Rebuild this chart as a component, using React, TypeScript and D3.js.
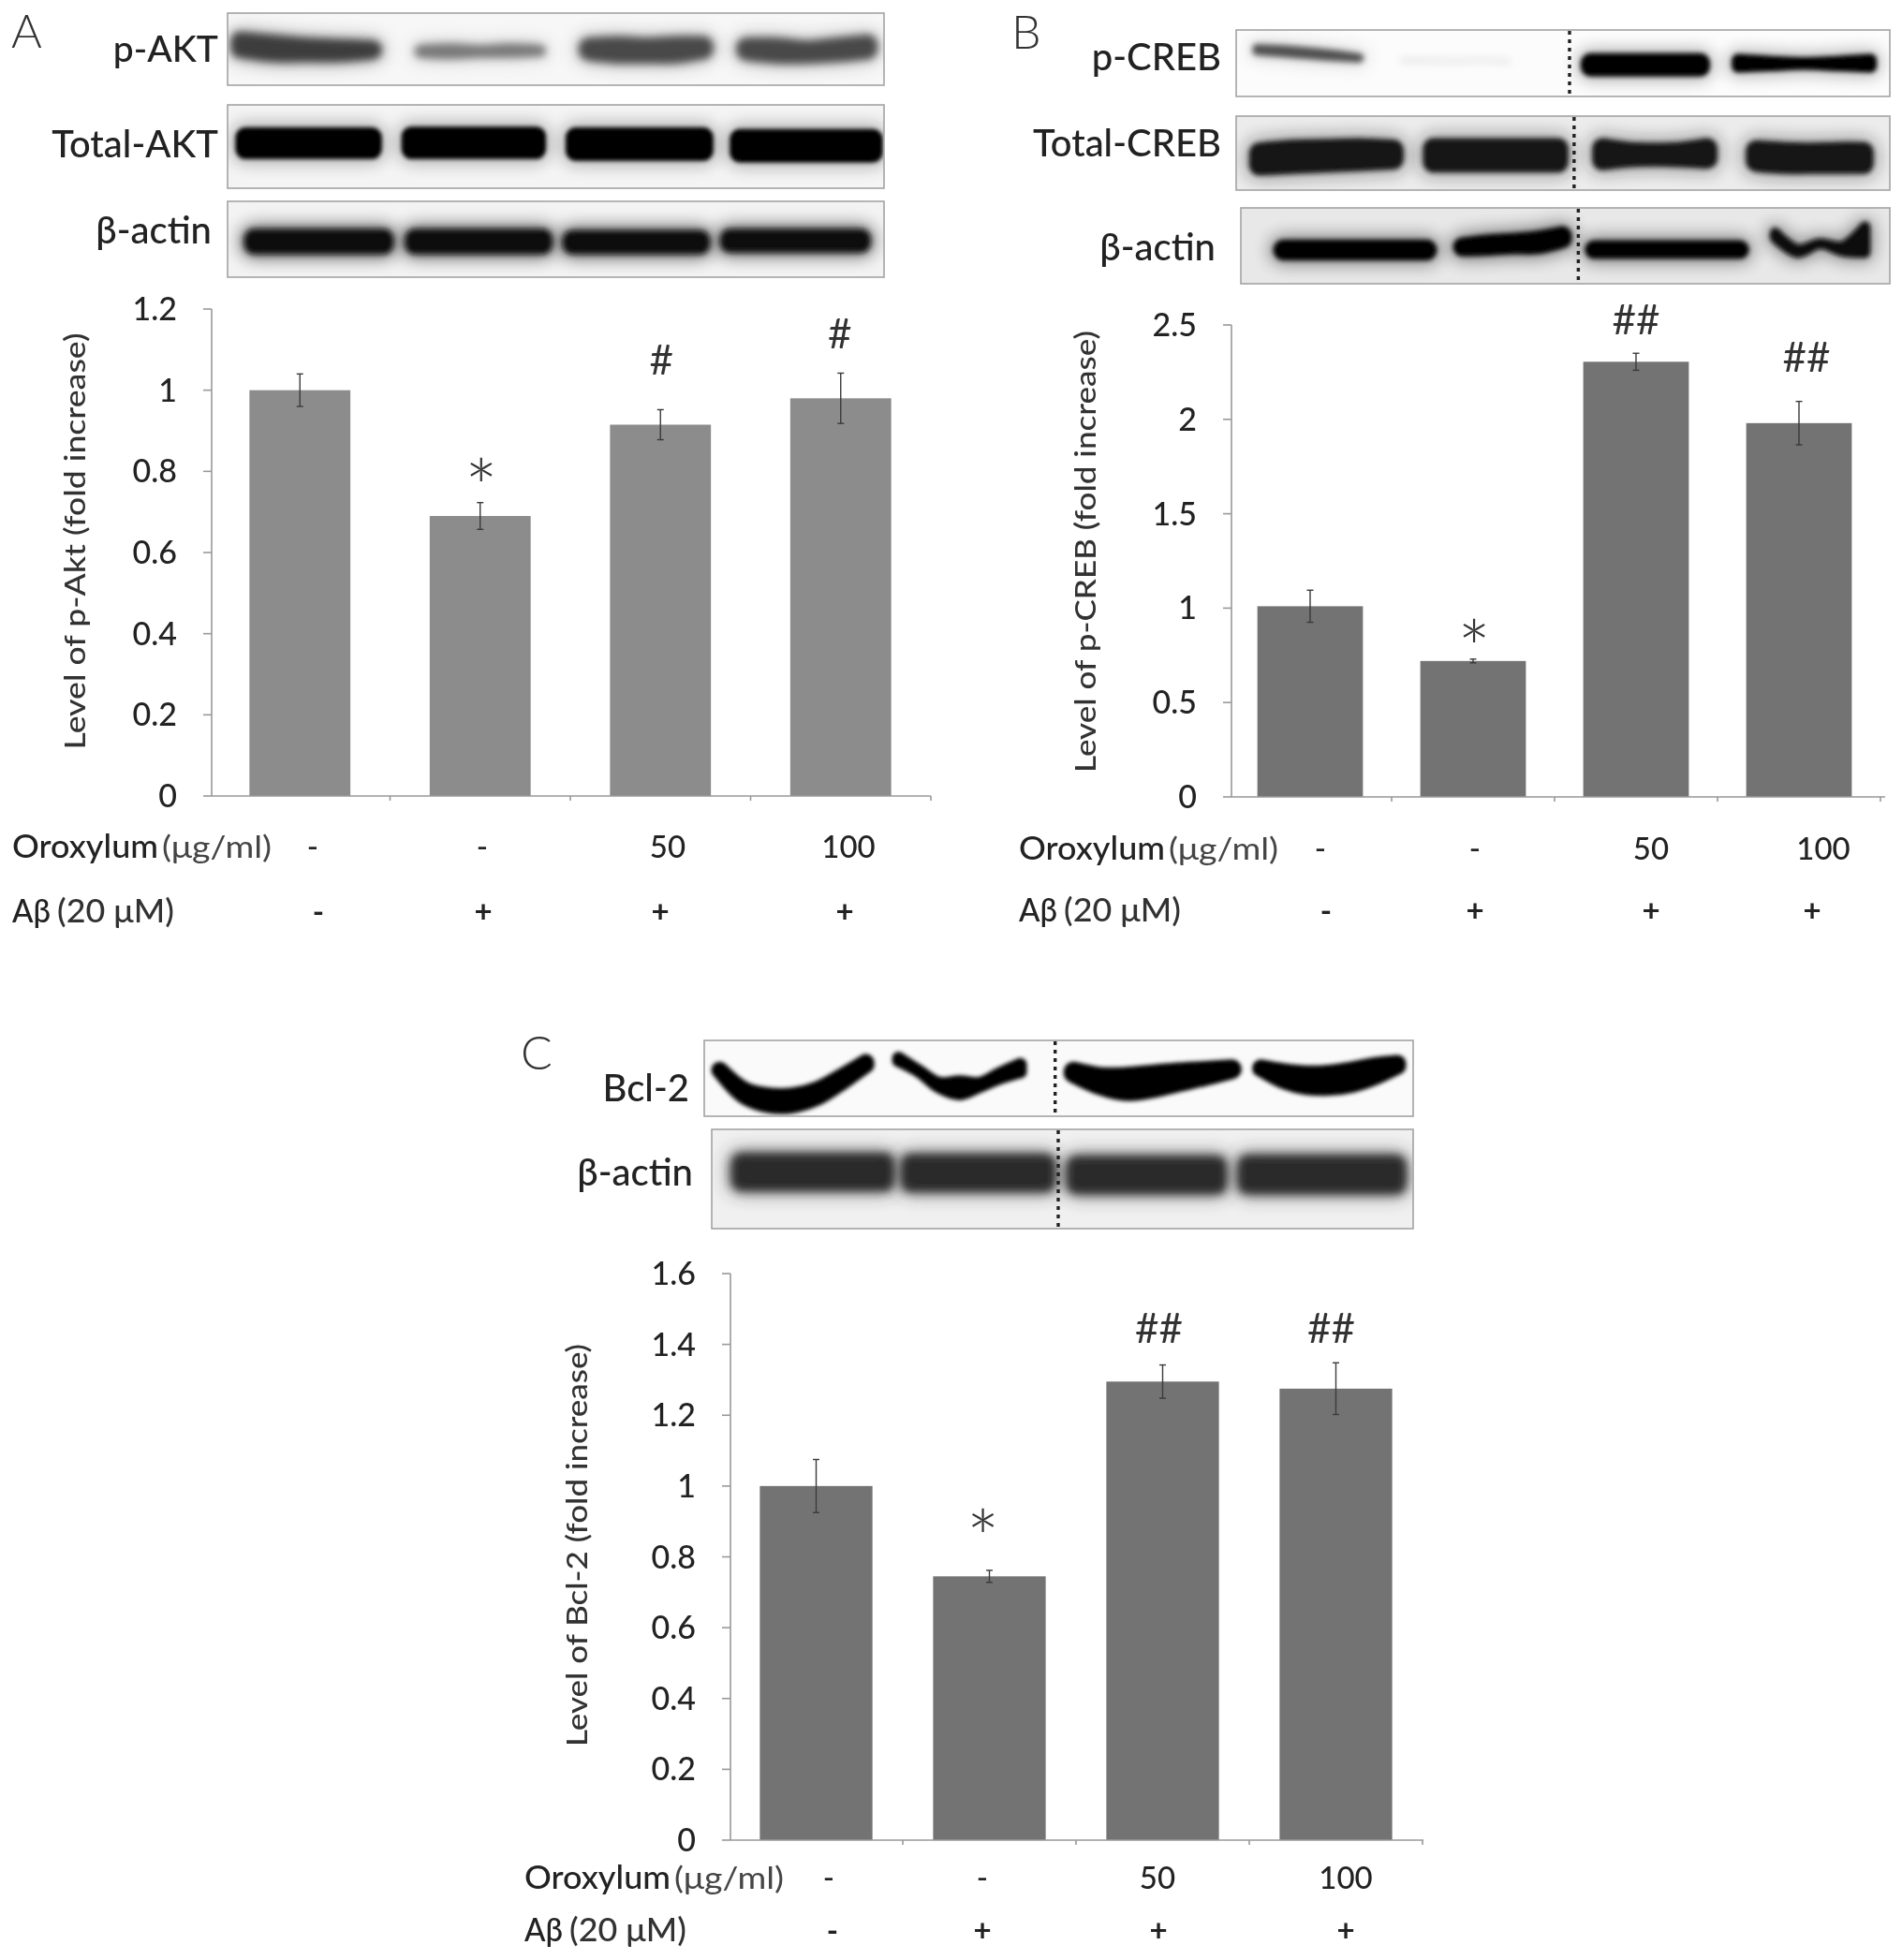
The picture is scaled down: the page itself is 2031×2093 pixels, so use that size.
import React from "react";
import * as d3 from "d3";

const FONT = "Lato, 'Open Sans', sans-serif";

const groups = ["ctrl", "abeta", "oro50", "oro100"];
const oroxylumRow = ["-", "-", "50", "100"];
const abetaRow = ["-", "+", "+", "+"];

const aktValues = [1.0, 0.69, 0.915, 0.98];
const aktErrors = [0.04, 0.033, 0.037, 0.062];
const aktTicks = [0, 0.2, 0.4, 0.6, 0.8, 1, 1.2];
const aktMarks = ["", "*", "#", "#"];
const aktMarkLevels = [0, 0.8, 1.075, 1.14];

const crebValues = [1.01, 0.72, 2.305, 1.98];
const crebErrors = [0.085, 0.01, 0.045, 0.115];
const crebTicks = [0, 0.5, 1, 1.5, 2, 2.5];
const crebMarks = ["", "*", "##", "##"];
const crebMarkLevels = [0, 0.875, 2.53, 2.33];

const bclValues = [1.0, 0.745, 1.295, 1.275];
const bclErrors = [0.075, 0.017, 0.047, 0.073];
const bclTicks = [0, 0.2, 0.4, 0.6, 0.8, 1, 1.2, 1.4, 1.6];
const bclMarks = ["", "*", "##", "##"];
const bclMarkLevels = [0, 0.9, 1.446, 1.446];

// blot bands: lane start/end and the upper/lower edge, in percent of the blot frame
type Band = { lane: number[]; top: number[]; bot: number[]; ink: string; soft: number; halo?: number };

const flat = (a: number, b: number, t: number, u: number, ink: string, soft: number, halo?: number): Band => ({
  lane: [a, b],
  top: [t, t, t, t, t],
  bot: [u, u, u, u, u],
  ink,
  soft,
  halo,
});

const pAktBands: Band[] = [
  { lane: [0.5, 23.5], top: [26, 30, 34, 36, 38], bot: [62, 68, 68, 68, 64], ink: "#3c3c3c", soft: 4, halo: 0.35 },
  { lane: [28.5, 48.5], top: [44, 42, 44, 42, 44], bot: [62, 64, 62, 62, 60], ink: "#787878", soft: 4, halo: 0.25 },
  { lane: [53.5, 74], top: [34, 32, 34, 32, 32], bot: [66, 70, 70, 70, 64], ink: "#4a4a4a", soft: 4, halo: 0.3 },
  { lane: [77.5, 99], top: [34, 34, 38, 34, 30], bot: [66, 70, 70, 68, 64], ink: "#484848", soft: 4, halo: 0.3 },
];
const totalAktBands: Band[] = [
  flat(1.2, 23.5, 27, 65, "#000", 2, 0.3),
  flat(26.5, 48.5, 26, 65, "#000", 2, 0.3),
  flat(51.5, 74, 27, 67, "#000", 2, 0.3),
  flat(76.5, 99.8, 29, 69, "#000", 2, 0.3),
];
const aktActinBands: Band[] = [
  flat(2.5, 25.3, 36, 70, "#0c0c0c", 3, 0.55),
  flat(27, 49.5, 36, 70, "#0c0c0c", 3, 0.55),
  flat(51, 73.5, 38, 70, "#0c0c0c", 3, 0.55),
  flat(75, 98, 36, 68, "#0c0c0c", 3, 0.55),
];

const pCrebBands: Band[] = [
  { lane: [2.5, 19.5], top: [21, 23, 26, 30, 35], bot: [38, 41, 44, 47, 49], ink: "#505050", soft: 3, halo: 0.2 },
  { lane: [25, 42], top: [42, 42, 43, 42, 44], bot: [50, 50, 50, 49, 52], ink: "#e6e6e6", soft: 4 },
  flat(52.7, 72.5, 35, 70, "#000", 2.5, 0.3),
  { lane: [75.8, 98], top: [36, 39, 41, 39, 36], bot: [64, 62, 60, 62, 64], ink: "#000", soft: 2.5, halo: 0.3 },
];
const totalCrebBands: Band[] = [
  { lane: [2, 25.6], top: [36, 32, 31, 30, 32], bot: [80, 78, 76, 74, 72], ink: "#141414", soft: 2.5, halo: 0.4 },
  flat(28.6, 50.8, 30, 76, "#141414", 2.5, 0.4),
  { lane: [54.5, 73.6], top: [30, 35, 36, 35, 30], bot: [73, 69, 68, 69, 71], ink: "#141414", soft: 2.5, halo: 0.4 },
  { lane: [78, 97.5], top: [33, 35, 36, 35, 35], bot: [75, 78, 78, 78, 78], ink: "#141414", soft: 2.5, halo: 0.4 },
];
const crebActinBands: Band[] = [
  flat(5, 30.2, 42, 69, "#000", 2.5, 0.45),
  { lane: [32.7, 51], top: [39, 35, 33, 30, 24], bot: [64, 63, 61, 61, 53], ink: "#000", soft: 2.5, halo: 0.45 },
  flat(53, 78.3, 43, 67, "#000", 2.5, 0.45),
  { lane: [81.5, 97], top: [26, 48, 40, 44, 18], bot: [46, 66, 54, 64, 66], ink: "#111", soft: 2.5, halo: 0.4 },
];

const bcl2Bands: Band[] = [
  { lane: [1, 24], top: [28, 54, 62, 62, 54, 37, 18], bot: [50, 84, 96, 96, 86, 66, 43], ink: "#000", soft: 2 },
  { lane: [26.5, 45.5], top: [15, 32, 48, 46, 48, 35, 23], bot: [35, 49, 70, 79, 69, 58, 50], ink: "#000", soft: 2 },
  { lane: [50.7, 75.8], top: [28, 35, 35, 32, 29, 27, 25], bot: [56, 72, 80, 76, 68, 60, 51], ink: "#000", soft: 2 },
  { lane: [77.3, 99], top: [25, 30, 33, 32, 28, 22, 19], bot: [48, 64, 72, 73, 69, 59, 45], ink: "#000", soft: 2 },
];
const bclActinBands: Band[] = [
  flat(2.8, 26, 24, 62, "#2a2a2a", 5, 0.5),
  flat(27, 49, 25, 63, "#2a2a2a", 5, 0.5),
  flat(50.6, 73.4, 27, 65, "#2a2a2a", 5, 0.5),
  flat(75, 99, 26, 65, "#2a2a2a", 5, 0.5),
];

const softLevels = [2, 2.5, 3, 4, 5];

type Frame = { label: string; bands: Band[]; x: number; y: number; w: number; h: number; labelX: number; labelY: number; labelSize: number; bg: string; cut?: number };

const aFrames: Frame[] = [
  { label: "p-AKT", bands: pAktBands, x: 243, y: 14, w: 701, h: 77, labelX: 233, labelY: 66, labelSize: 39, bg: "#f7f7f7" },
  { label: "Total-AKT", bands: totalAktBands, x: 243, y: 112, w: 701, h: 89, labelX: 233, labelY: 168, labelSize: 40, bg: "#f4f4f4" },
  { label: "β-actin", bands: aktActinBands, x: 243, y: 215, w: 701, h: 81, labelX: 226, labelY: 260, labelSize: 40, bg: "#f3f3f3" },
];
const bFrames: Frame[] = [
  { label: "p-CREB", bands: pCrebBands, x: 1320, y: 32, w: 698, h: 71, labelX: 1304, labelY: 75, labelSize: 40, bg: "#fcfcfc", cut: 51 },
  { label: "Total-CREB", bands: totalCrebBands, x: 1320, y: 124, w: 698, h: 79, labelX: 1304, labelY: 167, labelSize: 40, bg: "#ececec", cut: 51.7 },
  { label: "β-actin", bands: crebActinBands, x: 1325, y: 222, w: 693, h: 81, labelX: 1298, labelY: 278, labelSize: 40, bg: "#e8e8e8", cut: 52 },
];
const cFrames: Frame[] = [
  { label: "Bcl-2", bands: bcl2Bands, x: 752, y: 1111, w: 757, h: 81, labelX: 736, labelY: 1176, labelSize: 40, bg: "#fafafa", cut: 49.5 },
  { label: "β-actin", bands: bclActinBands, x: 760, y: 1206, w: 749, h: 106, labelX: 740, labelY: 1266, labelSize: 40, bg: "#f0f0f0", cut: 49.4 },
];

const bandArea = d3.area<number>().curve(d3.curveCatmullRom);

const Blot = ({ f, id }: { f: Frame; id: string }) => {
  const px = d3.scaleLinear().domain([0, 100]).range([f.x, f.x + f.w]);
  const py = d3.scaleLinear().domain([0, 100]).range([f.y, f.y + f.h]);
  return (
    <g>
      <clipPath id={id}>
        <rect x={f.x} y={f.y} width={f.w} height={f.h} />
      </clipPath>
      <rect x={f.x} y={f.y} width={f.w} height={f.h} fill={f.bg} />
      <g clipPath={`url(#${id})`}>
        {f.bands.map((b, i) => {
          // shrink the shape by the corner radius, a round stroke grows it back
          const thin = d3.min(b.top.map((t, k) => py(b.bot[k]) - py(t))) ?? 0;
          const r = Math.min(11, thin / 2);
          const along = d3.scaleLinear().domain([0, b.top.length - 1]).range([px(b.lane[0]) + r, px(b.lane[1]) - r]);
          const d =
            bandArea
              .x((_, k) => along(k))
              .y0((_, k) => py(b.top[k]) + r)
              .y1((_, k) => py(b.bot[k]) - r)(b.top) ?? "";
          return (
            <g key={i}>
              {b.halo ? (
                <path d={d} fill={b.ink} stroke={b.ink} strokeWidth={2 * r + 8} strokeLinejoin="round" opacity={b.halo} filter="url(#blurHalo)" />
              ) : null}
              <path d={d} fill={b.ink} stroke={b.ink} strokeWidth={2 * r} strokeLinejoin="round" filter={`url(#blur${b.soft})`} />
            </g>
          );
        })}
      </g>
      {f.cut !== undefined ? (
        <line x1={px(f.cut)} x2={px(f.cut)} y1={f.y + 1} y2={f.y + f.h - 1} stroke="#222" strokeWidth={3.4} strokeDasharray="4 5" />
      ) : null}
      <rect x={f.x} y={f.y} width={f.w} height={f.h} fill="none" stroke="#a3a3a3" strokeWidth={1.6} />
      <text x={f.labelX} y={f.labelY} textAnchor="end" fontSize={f.labelSize} fontWeight={500} fill="#222">
        {f.label}
      </text>
    </g>
  );
};

type PanelProps = {
  letter: string;
  letterX: number;
  letterY: number;
  frames: Frame[];
  values: number[];
  errors: number[];
  ticks: number[];
  maxY: number;
  marks: string[];
  markLevels: number[];
  markShift: number[];
  fill: string;
  axisX: number;
  axisEnd: number;
  bandStart: number;
  bandEnd: number;
  top: number;
  base: number;
  barPad: number;
  yTitle: string;
  titleX: number;
  titleLen: number;
  titleCenter: number;
  rowX: number;
  rowAX: number[];
  rowBX: number[];
  rowAY: number;
  rowBY: number;
};

const Panel = (p: PanelProps) => {
  const x = d3.scaleBand<string>().domain(groups).range([p.bandStart, p.bandEnd]).paddingInner(p.barPad).paddingOuter(p.barPad / 2);
  const y = d3.scaleLinear().domain([0, p.maxY]).range([p.base, p.top]);
  const step = x.step();
  const edges = d3.range(groups.length + 1).map((i) => p.bandStart + i * step);
  const centre = (g: string) => (x(g) ?? 0) + x.bandwidth() / 2;
  return (
    <g>
      <text x={p.letterX} y={p.letterY} fontSize={50} fontWeight={300} fill="#333">
        {p.letter}
      </text>
      {p.frames.map((f, i) => (
        <Blot key={f.label} f={f} id={`clip${p.letter}${i}`} />
      ))}
      {groups.map((g, i) => (
        <rect key={g} x={x(g)} y={y(p.values[i])} width={x.bandwidth()} height={p.base - y(p.values[i])} fill={p.fill} />
      ))}
      <g stroke="#999" strokeWidth={1.6}>
        <line x1={p.axisX} x2={p.axisX} y1={y(p.maxY)} y2={p.base} />
        <line x1={p.axisX} x2={p.axisEnd} y1={p.base} y2={p.base} />
        {p.ticks.map((t) => (
          <line key={t} x1={p.axisX - 9} x2={p.axisX} y1={y(t)} y2={y(t)} />
        ))}
        {edges.slice(1).map((e) => (
          <line key={e} x1={e} x2={e} y1={p.base} y2={p.base + 5} />
        ))}
      </g>
      <g stroke="#3a3a3a" strokeWidth={1.4}>
        {groups.map((g, i) => {
          const c = centre(g);
          const hi = y(p.values[i] + p.errors[i]);
          const lo = y(p.values[i] - p.errors[i]);
          return (
            <g key={g}>
              <line x1={c} x2={c} y1={hi} y2={lo} />
              <line x1={c - 3.5} x2={c + 3.5} y1={hi} y2={hi} />
              <line x1={c - 3.5} x2={c + 3.5} y1={lo} y2={lo} />
            </g>
          );
        })}
      </g>
      {p.ticks.map((t) => (
        <text key={t} x={p.axisX - 37} y={y(t) + 12} textAnchor="end" fontSize={34} fontWeight={500} fill="#222">
          {t}
        </text>
      ))}
      {groups.map((g, i) =>
        p.marks[i] ? (
          <text
            key={g}
            x={centre(g) + p.markShift[i]}
            y={y(p.markLevels[i]) + (p.marks[i] === "*" ? 49 : 16)}
            textAnchor="middle"
            fontSize={p.marks[i] === "*" ? 84 : 44}
            fontWeight={p.marks[i] === "*" ? 300 : 400}
            fill="#333"
          >
            {p.marks[i]}
          </text>
        ) : null,
      )}
      <text
        transform={`translate(${p.titleX},${p.titleCenter}) rotate(-90)`}
        textAnchor="middle"
        fontSize={30}
        fontWeight={500}
        textLength={p.titleLen}
        lengthAdjust="spacingAndGlyphs"
        fill="#333"
      >
        {p.yTitle}
      </text>
      <text x={p.rowX} y={p.rowAY} fontSize={34} fontWeight={500} fill="#222" textLength={156} lengthAdjust="spacingAndGlyphs">
        Oroxylum
      </text>
      <text x={p.rowX + 160} y={p.rowAY} fontSize={32} fill="#444" textLength={117} lengthAdjust="spacingAndGlyphs">
        (μg/ml)
      </text>
      <text x={p.rowX} y={p.rowBY} fontSize={34} fontWeight={500} fill="#222" textLength={41} lengthAdjust="spacingAndGlyphs">
        Aβ
      </text>
      <text x={p.rowX + 48} y={p.rowBY} fontSize={34} fontWeight={500} fill="#333" textLength={125} lengthAdjust="spacingAndGlyphs">
        (20 μM)
      </text>
      {oroxylumRow.map((s, i) => (
        <text key={i} x={p.rowAX[i]} y={p.rowAY} textAnchor="middle" fontSize={33} fontWeight={500} fill="#222">
          {s}
        </text>
      ))}
      {abetaRow.map((s, i) => (
        <text key={i} x={p.rowBX[i]} y={p.rowBY} textAnchor="middle" fontSize={33} fontWeight={700} fill="#222">
          {s}
        </text>
      ))}
    </g>
  );
};

export default function App() {
  return (
    <svg
      width={2031}
      height={2093}
      viewBox="0 0 2031 2093"
      style={{ position: "absolute", left: 0, top: 0, background: "#fff", fontFamily: FONT }}
    >
      <defs>
        {softLevels.map((s) => (
          <filter key={s} id={`blur${s}`} filterUnits="userSpaceOnUse" x={0} y={0} width={2031} height={2093}>
            <feGaussianBlur stdDeviation={s} />
          </filter>
        ))}
        <filter id="blurHalo" filterUnits="userSpaceOnUse" x={0} y={0} width={2031} height={2093}>
          <feGaussianBlur stdDeviation={9} />
        </filter>
        <filter id="soft" filterUnits="userSpaceOnUse" x={0} y={0} width={2031} height={2093}>
          <feGaussianBlur stdDeviation={0.5} />
        </filter>
      </defs>
      <g filter="url(#soft)">
        <Panel
          letter="A"
          letterX={12}
          letterY={51}
          frames={aFrames}
          values={aktValues}
          errors={aktErrors}
          ticks={aktTicks}
          maxY={1.2}
          marks={aktMarks}
          markLevels={aktMarkLevels}
          markShift={[0, 1, 1, -1]}
          fill="#8c8c8c"
          axisX={226}
          axisEnd={994}
          bandStart={224}
          bandEnd={994}
          top={330}
          base={850}
          barPad={0.44}
          yTitle="Level of p-Akt (fold increase)"
          titleX={91}
          titleLen={445}
          titleCenter={578}
          rowX={13}
          rowAX={[334, 515, 713, 906]}
          rowBX={[340, 516, 705, 902]}
          rowAY={916}
          rowBY={985}
        />
        <Panel
          letter="B"
          letterX={1080}
          letterY={52}
          frames={bFrames}
          values={crebValues}
          errors={crebErrors}
          ticks={crebTicks}
          maxY={2.5}
          marks={crebMarks}
          markLevels={crebMarkLevels}
          markShift={[0, 1, 0, 8]}
          fill="#737373"
          axisX={1315}
          axisEnd={2013}
          bandStart={1312}
          bandEnd={2008}
          top={347}
          base={851}
          barPad={0.352}
          yTitle="Level of p-CREB (fold increase)"
          titleX={1170}
          titleLen={472}
          titleCenter={589}
          rowX={1088}
          rowAX={[1410, 1575, 1763, 1947]}
          rowBX={[1416, 1575, 1763, 1935]}
          rowAY={918}
          rowBY={984}
        />
        <Panel
          letter="C"
          letterX={556}
          letterY={1142}
          frames={cFrames}
          values={bclValues}
          errors={bclErrors}
          ticks={bclTicks}
          maxY={1.6}
          marks={bclMarks}
          markLevels={bclMarkLevels}
          markShift={[0, -7, -4, -5]}
          fill="#737373"
          axisX={780}
          axisEnd={1520}
          bandStart={779}
          bandEnd={1519}
          top={1360}
          base={1965}
          barPad={0.35}
          yTitle="Level of Bcl-2 (fold increase)"
          titleX={627}
          titleLen={430}
          titleCenter={1650}
          rowX={560}
          rowAX={[885, 1049, 1236, 1437]}
          rowBX={[889, 1049, 1237, 1437]}
          rowAY={2017}
          rowBY={2073}
        />
      </g>
    </svg>
  );
}
